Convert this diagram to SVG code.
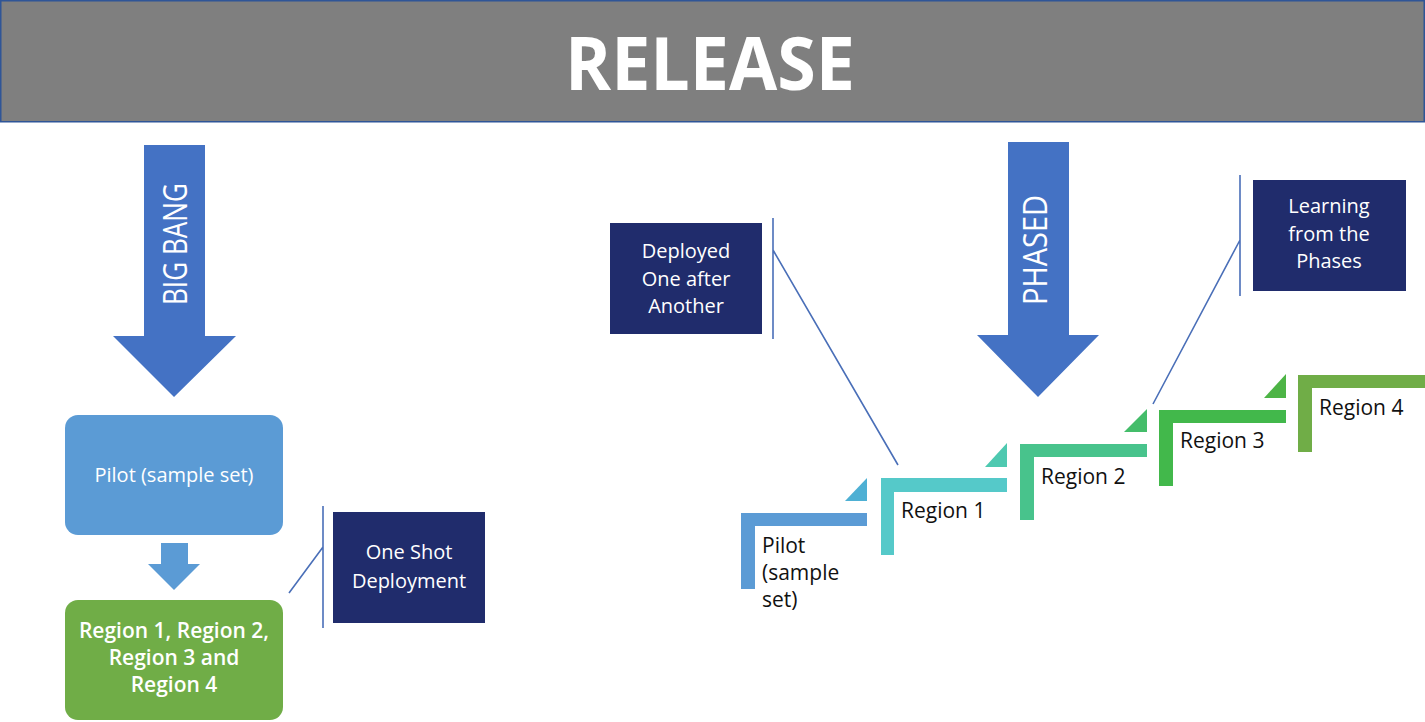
<svg xmlns="http://www.w3.org/2000/svg" width="1425" height="722" viewBox="0 0 1425 722">
<style>
.wt{font-family:"Open Sans","Liberation Sans",sans-serif;fill:#ffffff;text-anchor:middle}
.bt{font-family:"Open Sans","Liberation Sans",sans-serif;fill:#111111;font-size:21px}
.navy{fill:#202c6c}
.call{stroke:#4a6fb8;stroke-width:1.6;fill:none}
</style>
<rect width="1425" height="722" fill="#ffffff"/>
<g id="header">
<rect x="0.75" y="0.75" width="1423.5" height="121" fill="#7f7f7f" stroke="#2f5597" stroke-width="1.5"/>
<text class="wt" x="710" y="90" font-size="73" font-weight="bold" textLength="290" lengthAdjust="spacingAndGlyphs">RELEASE</text>
</g>
<g id="bigbang-arrow">
<polygon points="144,145 205,145 205,336 236,336 174,397 113,336 144,336" fill="#4472c4"/>
<text class="wt" x="174.5" y="256.5" font-size="33" font-weight="500" transform="rotate(-90 174.5 244)" textLength="122" lengthAdjust="spacingAndGlyphs">BIG BANG</text>
</g>
<g id="pilot-box">
<rect x="65" y="415" width="218" height="120" rx="13" fill="#5b9bd5"/>
<text class="wt" x="174" y="482" font-size="20">Pilot (sample set)</text>
</g>
<g id="small-arrow">
<polygon points="161,543 188,543 188,564 200,564 174,590 148,564 161,564" fill="#5b9bd5"/>
</g>
<g id="regions-box">
<rect x="65" y="600" width="218" height="120" rx="13" fill="#70ad47"/>
<text class="wt" font-size="21" font-weight="600"><tspan x="174" y="638">Region 1, Region 2,</tspan><tspan x="174" y="665">Region 3 and</tspan><tspan x="174" y="692">Region 4</tspan></text>
</g>
<g id="oneshot-box">
<rect class="navy" x="333" y="512" width="152" height="111"/>
<text class="wt" font-size="20"><tspan x="409" y="559">One Shot</tspan><tspan x="409" y="588">Deployment</tspan></text>
</g>
<g id="phased-arrow">
<polygon points="1008,142 1069,142 1069,335 1099,335 1038,397 977,335 1008,335" fill="#4472c4"/>
<text class="wt" x="1035" y="262" font-size="33" font-weight="500" transform="rotate(-90 1035 250)" textLength="110" lengthAdjust="spacingAndGlyphs">PHASED</text>
</g>
<g id="deployed-box">
<rect class="navy" x="610" y="223" width="152" height="111"/>
<text class="wt" font-size="20"><tspan x="686" y="258">Deployed</tspan><tspan x="686" y="286">One after</tspan><tspan x="686" y="313">Another</tspan></text>
</g>
<g id="learning-box">
<rect class="navy" x="1253" y="180" width="153" height="111"/>
<text class="wt" font-size="20"><tspan x="1329" y="213">Learning</tspan><tspan x="1329" y="241">from the</tspan><tspan x="1329" y="268">Phases</tspan></text>
</g>
<g id="step-pilot">
<path d="M741,513 H867 V526 H755 V589 H741 Z" fill="#5b9bd5"/>
<polygon points="845,501 867,501 867,478" fill="#4eb0d4"/>
<text class="bt"><tspan x="762" y="553">Pilot</tspan><tspan x="762" y="580">(sample</tspan><tspan x="762" y="607">set)</tspan></text>
</g>
<g id="step-region1">
<path d="M881,478 H1007 V492 H894 V555 H881 Z" fill="#55c9c9"/>
<polygon points="985,467 1007,467 1007,443" fill="#4ec9b0"/>
<text class="bt" x="901" y="518">Region 1</text>
</g>
<g id="step-region2">
<path d="M1020,444 H1147 V457 H1034 V520 H1020 Z" fill="#48c38c"/>
<polygon points="1124,432 1147,432 1147,409" fill="#44bd6a"/>
<text class="bt" x="1041" y="484">Region 2</text>
</g>
<g id="step-region3">
<path d="M1159,410 H1286 V423 H1173 V486 H1159 Z" fill="#42b84b"/>
<polygon points="1264,398 1286,398 1286,374" fill="#4db446"/>
<text class="bt" x="1180" y="448">Region 3</text>
</g>
<g id="step-region4">
<path d="M1298,375 H1425 V388 H1312 V452 H1298 Z" fill="#70ad47"/>
<text class="bt" x="1319" y="415">Region 4</text>
</g>
<g id="connectors">
<path class="call" d="M323,506 V628 M323,547 L289,593"/>
<path class="call" d="M773,218 V339 M773,250 L898,465"/>
<path class="call" d="M1240,175 V296 M1240,240 L1153,404"/>
</g>
</svg>
